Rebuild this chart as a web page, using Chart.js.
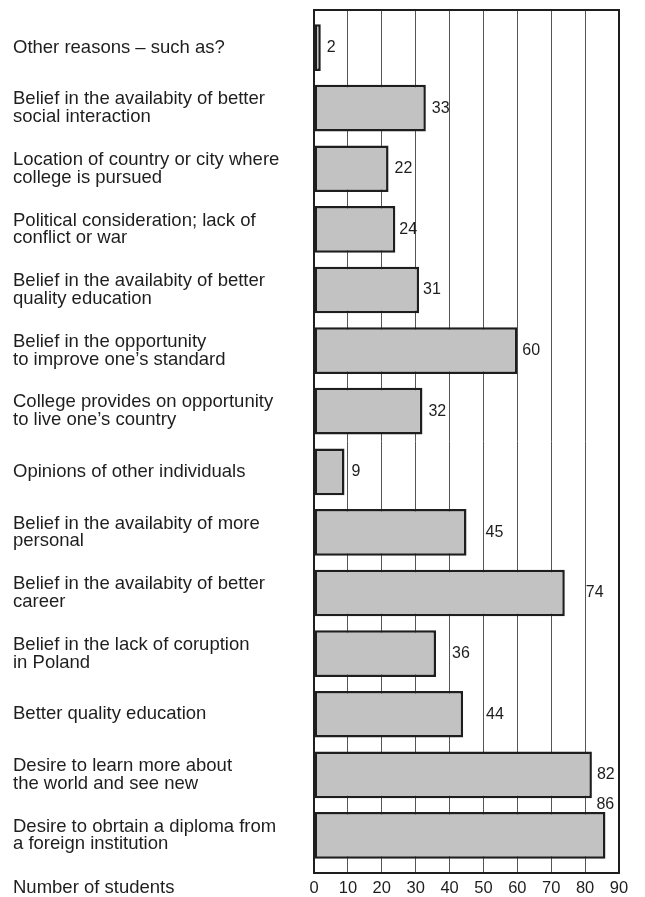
<!DOCTYPE html>
<html>
<head>
<meta charset="utf-8">
<script src="https://cdn.jsdelivr.net/npm/chart.js@4/dist/chart.umd.min.js"></script>
<style>
  html, body { margin: 0; padding: 0; background: #fff; }
  canvas { display: block; }
</style>
</head>
<body>
<canvas id="chart" width="645" height="897"></canvas>
<script>
// reasons for choosing to study abroad, top of chart first
var REASONS = [
  ["Other reasons \u2013 such as?"],
  ["Belief in the availabity of better", "social interaction"],
  ["Location of country or city where", "college is pursued"],
  ["Political consideration; lack of", "conflict or war"],
  ["Belief in the availabity of better", "quality education"],
  ["Belief in the opportunity", "to improve one\u2019s standard"],
  ["College provides on opportunity", "to live one\u2019s country"],
  ["Opinions of other individuals"],
  ["Belief in the availabity of more", "personal"],
  ["Belief in the availabity of better", "career"],
  ["Belief in the lack of coruption", "in Poland"],
  ["Better quality education"],
  ["Desire to learn more about", "the world and see new"],
  ["Desire to obrtain a diploma from", "a foreign institution"]
];
var STUDENTS = [2, 33, 22, 24, 31, 60, 32, 9, 45, 74, 36, 44, 82, 86];
var X_TICKS = [0, 10, 20, 30, 40, 50, 60, 70, 80, 90];
var AXIS_TITLE = "Number of students";

// where each value label sits relative to the bar end (px)
var LABEL_DX = [6, 6, 6, 4, 4, 5, 6, 7, 19, 21, 16, 23, 5, -9];
var LABEL_DY = [0, 0, 0, 0, 0, 0, 0, 0, 0, 0, 0, 0, 0, -31];

var FONT = "'Liberation Sans', Arial, sans-serif";
var INK = "#1e1e1e";

var framePlugin = {
  id: "frame",
  afterDatasetsDraw: function (chart) {
    var a = chart.chartArea, ctx = chart.ctx;
    ctx.save();
    ctx.strokeStyle = INK;
    ctx.lineWidth = 2;
    ctx.strokeRect(a.left, a.top, a.right - a.left, a.bottom - a.top);
    ctx.restore();
  }
};

var valueLabels = {
  id: "valueLabels",
  afterDraw: function (chart) {
    var ctx = chart.ctx;
    var meta = chart.getDatasetMeta(0);
    ctx.save();
    ctx.font = "16px " + FONT;
    ctx.fillStyle = INK;
    ctx.textAlign = "left";
    ctx.textBaseline = "middle";
    meta.data.forEach(function (bar, i) {
      ctx.fillText(String(STUDENTS[i]), bar.x + LABEL_DX[i], bar.y + LABEL_DY[i]);
    });
    // axis caption on the tick row
    ctx.font = "18.5px " + FONT;
    ctx.fillText(AXIS_TITLE, 13, chart.chartArea.bottom + 15);
    ctx.restore();
  }
};

new Chart(document.getElementById("chart"), {
  type: "bar",
  data: {
    datasets: [{
      data: STUDENTS.map(function (v, i) { return { x: v, y: i }; }),
      backgroundColor: "#c2c2c2",
      borderColor: INK,
      borderWidth: 2.5,
      borderSkipped: false,
      categoryPercentage: 1,
      barPercentage: 0.77
    }]
  },
  plugins: [framePlugin, valueLabels],
  options: {
    indexAxis: "y",
    responsive: false,
    animation: false,
    layout: { padding: { left: 13, right: 26, top: 10, bottom: 0 } },
    plugins: { legend: { display: false }, tooltip: { enabled: false } },
    scales: {
      x: {
        type: "linear",
        position: "bottom",
        min: X_TICKS[0],
        max: X_TICKS[X_TICKS.length - 1],
        afterBuildTicks: function (s) { s.ticks = X_TICKS.map(function (v) { return { value: v }; }); },
        afterFit: function (s) { s.height = 24; s.paddingLeft = 0; s.paddingRight = 0; },
        grid: { color: "#555", lineWidth: 1, drawTicks: false },
        border: { display: false },
        ticks: { color: INK, padding: 6, font: { family: FONT, size: 16.5 }, maxRotation: 0 }
      },
      y: {
        type: "linear",
        reverse: true,
        offset: false,
        min: -0.62,
        max: REASONS.length - 1 + 0.62,
        afterBuildTicks: function (s) { s.ticks = REASONS.map(function (_, i) { return { value: i }; }); },
        afterFit: function (s) { s.width = 301; s.paddingTop = 0; s.paddingBottom = 0; },
        grid: { display: false, offset: false },
        border: { display: false },
        ticks: {
          color: INK,
          crossAlign: "far",
          autoSkip: false,
          padding: 0,
          font: { family: FONT, size: 18.5, lineHeight: 0.97 },
          callback: function (v) { return REASONS[v]; }
        }
      }
    }
  }
});
</script>
</body>
</html>
